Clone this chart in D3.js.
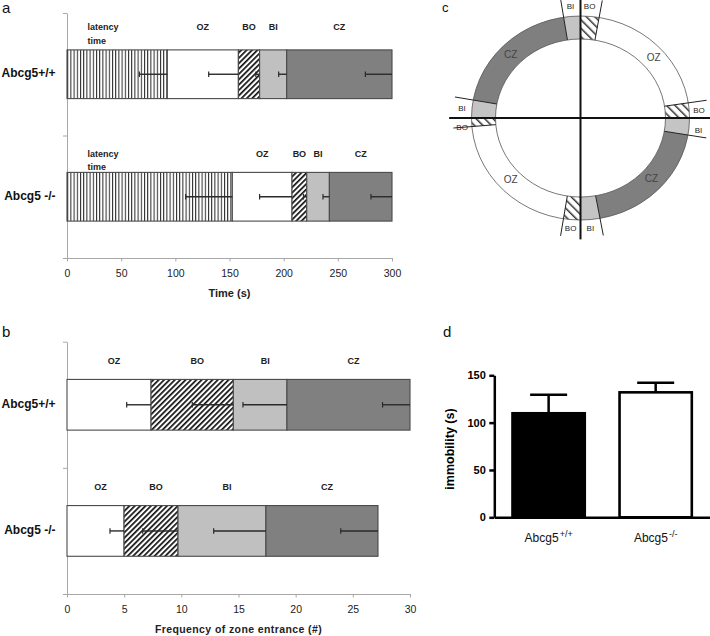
<!DOCTYPE html>
<html><head><meta charset="utf-8">
<script src="https://cdn.jsdelivr.net/npm/d3@7"></script>
<style>body{margin:0;background:#fff}svg{display:block}text{font-family:"Liberation Sans",Arial,sans-serif}</style>
</head><body><svg id="c" width="710" height="636"></svg>
<script>
// ---------------- data ----------------
const groups = ["Abcg5+/+", "Abcg5 -/-"];

// panel a: time spent per zone (s), stacked
const zonesA = ["latency time", "OZ", "BO", "BI", "CZ"];
const timeWT = [92.6, 65.6, 19.6, 25.0, 97.2];
const timeKO = [152.6, 55.1, 13.6, 20.9, 57.8];
const timeErrWT = [25.8, 27.4, 3.5, 7.4, 24.6];
const timeErrKO = [43.1, 29.9, 3.0, 5.9, 19.4];
const timeTicks = [0, 50, 100, 150, 200, 250, 300];

// panel b: frequency of zone entrance (#), stacked
const zonesB = ["OZ", "BO", "BI", "CZ"];
const freqWT = [7.35, 7.2, 4.69, 10.76];
const freqKO = [4.99, 4.72, 7.69, 9.8];
const freqErrWT = [2.13, 3.59, 3.85, 2.4];
const freqErrKO = [1.23, 3.09, 4.57, 3.26];
const freqTicks = [0, 5, 10, 15, 20, 25, 30];

// panel c: ring maze zones (compass degrees)
const ringZones = ["BO", "OZ", "BO", "BI", "CZ", "BI", "BO", "OZ", "BO", "BI", "CZ", "BI"];
const ringStart = [0, 10.5, 82, 90, 99, 169, 180, 189.6, 265.5, 270, 279.5, 350.5];
const ringEnd   = [10.5, 82, 90, 99, 169, 180, 189.6, 265.5, 270, 279.5, 350.5, 360];
const ringLabels = ["BI", "BO", "BO", "BI", "BO", "BI", "BI", "BO", "CZ", "OZ", "OZ", "CZ"];
const ringLabelAngle = [354.8, 4.7, 86.6, 96, 185.1, 174.9, 274.2, 265.4, 312, 51, 228, 131];

// panel d: immobility (s)
const immobility = [109.9, 132.0];
const immobilityErr = [19.6, 10.2];
const immTicks = [0, 50, 100, 150];
const immLabelBase = ["Abcg5", "Abcg5"];
const immLabelSup = ["+/+", "-/-"];

// ---------------- drawing ----------------
const svg = d3.select("#c");
svg.append("rect").attr("width", 710).attr("height", 636).attr("fill", "#fff");
const defs = svg.append("defs");

function pattern(id, w, h, rot, lw, col) {
  const p = defs.append("pattern").attr("id", id).attr("patternUnits", "userSpaceOnUse")
    .attr("width", w).attr("height", h);
  if (rot) p.attr("patternTransform", `rotate(${rot})`);
  p.append("rect").attr("width", w).attr("height", h).attr("fill", "#fff");
  p.append("line").attr("x1", lw / 2).attr("x2", lw / 2).attr("y1", 0).attr("y2", h)
    .attr("stroke", col).attr("stroke-width", lw);
  return p;
}
pattern("vstripe", 3.2, 10, 0, 1, "#222");
pattern("diag", 3.8, 3.8, 45, 1.7, "#111");
pattern("diagC", 6, 6, -45, 1.5, "#333");

const fillOf = { "latency time": "url(#vstripe)", OZ: "#ffffff", BO: "url(#diag)", BI: "#c0c0c0", CZ: "#808080" };
const FONT = '"Liberation Sans",Arial,sans-serif';

function panelLabel(t, x, y, size) {
  svg.append("text").attr("x", x).attr("y", y).attr("font-size", size).attr("fill", "#111").text(t);
}

function stackedPanel(opt) {
  const { x, yRange, zones, vals, errs, ticks, title, titleY, labelDy, labelShift, barH } = opt;
  const g = svg.append("g");
  const yB = d3.scaleBand().domain(groups).range(yRange);
  const yIdx = d3.scaleLinear().domain([0, groups.length]).range([yRange[1], yRange[0]]);
  // left axis
  g.append("g").attr("transform", `translate(${x.range()[0]},0)`)
    .call(d3.axisLeft(yIdx).tickValues(d3.range(groups.length + 1)).tickFormat("").tickSize(4).tickSizeOuter(0))
    .call(s => s.selectAll("path,line").attr("stroke", "#a8a8a8"));
  // bottom axis
  const ax = g.append("g").attr("transform", `translate(0,${yRange[1]})`)
    .call(d3.axisBottom(x).tickValues(ticks).tickSize(3.5).tickPadding(7.9).tickSizeOuter(0));
  ax.selectAll(".domain,line").attr("stroke", "#a8a8a8");
  ax.selectAll("text").attr("font-size", 10.5).attr("fill", "#222").attr("font-family", FONT);
  g.append("text").attr("x", (x.range()[0] + x.range()[1]) / 2).attr("y", titleY)
    .attr("text-anchor", "middle").attr("dominant-baseline", "middle")
    .attr("font-size", opt.titleSize).attr("font-weight", "bold").attr("letter-spacing", opt.titleLS || 0)
    .attr("fill", "#222").text(title);

  groups.forEach((grp, gi) => {
    const cyB = yB(grp) + yB.bandwidth() / 2;
    const v = vals[gi], e = errs[gi];
    const ends = d3.cumsum(v);
    const starts = [0, ...ends.slice(0, -1)];
    // group label
    g.append("text").attr("x", 55.5).attr("y", cyB).attr("text-anchor", "end")
      .attr("dominant-baseline", "middle").attr("font-size", 12).attr("font-weight", "bold")
      .attr("fill", "#111").text(grp);
    const seg = g.selectAll(null).data(zones.map((z, i) => ({ z, s: starts[i], e: ends[i], err: e[i] })))
      .enter();
    seg.append("rect")
      .attr("x", d => x(d.s)).attr("width", d => x(d.e) - x(d.s))
      .attr("y", cyB - barH / 2).attr("height", barH)
      .attr("fill", d => fillOf[d.z]).attr("stroke", "#4a4a4a").attr("stroke-width", 1.1);
    // error bars (drawn leftwards from segment end)
    seg.append("line").attr("x1", d => x(d.e - d.err)).attr("x2", d => x(d.e))
      .attr("y1", cyB).attr("y2", cyB).attr("stroke", "#2a2a2a").attr("stroke-width", 1.4);
    seg.append("line").attr("x1", d => x(d.e - d.err)).attr("x2", d => x(d.e - d.err))
      .attr("y1", cyB - 2.8).attr("y2", cyB + 2.8).attr("stroke", "#2a2a2a").attr("stroke-width", 1.2);
    // zone labels
    const ly = cyB + labelDy[gi];
    zones.forEach((z, i) => {
      if (z === "latency time") {
        g.append("text").attr("x", x(0) + 20.5).attr("y", ly).attr("font-size", 9)
          .attr("font-weight", "bold").attr("fill", "#222").attr("dominant-baseline", "middle").text("latency");
        g.append("text").attr("x", x(0) + 20.5).attr("y", ly + opt.lineGap[gi]).attr("font-size", 9)
          .attr("font-weight", "bold").attr("fill", "#222").attr("dominant-baseline", "middle").text("time");
      } else {
        g.append("text").attr("x", (x(starts[i]) + x(ends[i])) / 2 + labelShift)
          .attr("y", ly).attr("text-anchor", "middle").attr("dominant-baseline", "middle")
          .attr("font-size", 9).attr("font-weight", "bold").attr("fill", "#222").text(z);
      }
    });
  });
}

// ---- panel a ----
panelLabel("a", 2, 12.5, 15);
stackedPanel({
  x: d3.scaleLinear().domain([0, 300]).range([67, 392]),
  yRange: [13, 258], zones: zonesA, vals: [timeWT, timeKO], errs: [timeErrWT, timeErrKO],
  ticks: timeTicks, title: "Time (s)", titleY: 294, titleSize: 11,
  labelDy: [-47, -42], lineGap: [14, 13], labelShift: 0, barH: 48.7
});

// ---- panel b ----
panelLabel("b", 2, 336.5, 15);
stackedPanel({
  x: d3.scaleLinear().domain([0, 30]).range([67, 410]),
  yRange: [341.7, 594], zones: zonesB, vals: [freqWT, freqKO], errs: [freqErrWT, freqErrKO],
  ticks: freqTicks, title: "Frequency of zone entrance (#)", titleY: 630, titleSize: 10.5, titleLS: 0.4,
  labelDy: [-42.8, -42.9], lineGap: [14, 14], labelShift: 5, barH: 50.7
});

// ---- panel c ----
panelLabel("c", 442, 12, 13);
{
  const cx = 580.5, cy = 118, ao = 109, bo = 102, ai = 85, bi = 79;
  const ang = d3.scaleLinear().domain([0, 360]).range([0, 2 * Math.PI]);
  const ept = (deg, a, b, k = 1) => {
    const t = ang(deg), s = Math.sin(t), c = Math.cos(t);
    const r = k / Math.sqrt((s / a) ** 2 + (c / b) ** 2);
    return [cx + r * s, cy - r * c];
  };
  const sector = (d0, d1) => {
    const n = Math.max(2, Math.ceil((d1 - d0) / 2));
    const pts = [];
    for (let i = 0; i <= n; i++) pts.push(ept(d0 + (d1 - d0) * i / n, ao, bo));
    for (let i = n; i >= 0; i--) pts.push(ept(d0 + (d1 - d0) * i / n, ai, bi));
    return d3.line()(pts) + "Z";
  };
  const cfill = { OZ: "#ffffff", BO: "url(#diagC)", BI: "#c4c4c4", CZ: "#7f7f7f" };
  const gc = svg.append("g");
  gc.selectAll(null).data(ringZones.map((z, i) => ({ z, s: ringStart[i], e: ringEnd[i] })))
    .enter().append("path").attr("d", d => sector(d.s, d.e)).attr("fill", d => cfill[d.z]);
  gc.append("ellipse").attr("cx", cx).attr("cy", cy).attr("rx", ao).attr("ry", bo)
    .attr("fill", "none").attr("stroke", "#555").attr("stroke-width", 0.8);
  gc.append("ellipse").attr("cx", cx).attr("cy", cy).attr("rx", ai).attr("ry", bi)
    .attr("fill", "none").attr("stroke", "#555").attr("stroke-width", 0.8);
  // boundary lines
  ringStart.filter(a => a % 90 !== 0).forEach(a => {
    const p0 = ept(a, ai, bi), p1 = ept(a, ao, bo, 1.17);
    gc.append("line").attr("x1", p0[0]).attr("y1", p0[1]).attr("x2", p1[0]).attr("y2", p1[1])
      .attr("stroke", "#222").attr("stroke-width", 1);
  });
  // axes cross
  gc.append("line").attr("x1", cx - ao * 1.205).attr("x2", 710).attr("y1", cy).attr("y2", cy)
    .attr("stroke", "#111").attr("stroke-width", 2);
  gc.append("line").attr("x1", cx).attr("x2", cx).attr("y1", 0).attr("y2", cy + bo * 1.19)
    .attr("stroke", "#111").attr("stroke-width", 2);
  // labels
  ringLabels.forEach((t, i) => {
    const big = t === "CZ" || t === "OZ";
    const p = big ? ept(ringLabelAngle[i], (ao + ai) / 2, (bo + bi) / 2) : ept(ringLabelAngle[i], ao, bo, 1.09);
    gc.append("text").attr("x", p[0]).attr("y", p[1]).attr("text-anchor", "middle")
      .attr("dominant-baseline", "middle").attr("font-size", big ? 10 : 8)
      .attr("fill", big ? "#444" : "#222").text(t);
  });
}

// ---- panel d ----
panelLabel("d", 443, 336.5, 15);
{
  const y = d3.scaleLinear().domain([0, 150]).range([517.3, 375.3]);
  const x = d3.scaleBand().domain(groups).range([494.3, 710]).paddingInner(0.325).paddingOuter(0.17);
  const gd = svg.append("g");
  const ya = gd.append("g").attr("transform", "translate(494.3,0)")
    .call(d3.axisLeft(y).tickValues(immTicks).tickSize(5).tickPadding(3.5).tickSizeOuter(0));
  ya.selectAll("path,line").attr("stroke", "#000").attr("stroke-width", 2.5);
  ya.selectAll("text").attr("font-size", 11).attr("font-weight", "bold").attr("fill", "#000").attr("font-family", FONT);
  const xa = gd.append("g").attr("transform", `translate(0,${y(0)})`)
    .call(d3.axisBottom(x).tickSize(0).tickFormat("").tickSizeOuter(0));
  xa.select(".domain").attr("stroke", "#000").attr("stroke-width", 2.5);
  groups.forEach((grp, i) => {
    const x0 = x(grp), w = x.bandwidth(), xc = x0 + w / 2;
    gd.append("line").attr("x1", xc).attr("x2", xc).attr("y1", y(immobility[i]))
      .attr("y2", y(immobility[i] + immobilityErr[i])).attr("stroke", "#000").attr("stroke-width", 2.5);
    gd.append("line").attr("x1", xc - 18.5).attr("x2", xc + 18.5)
      .attr("y1", y(immobility[i] + immobilityErr[i])).attr("y2", y(immobility[i] + immobilityErr[i]))
      .attr("stroke", "#000").attr("stroke-width", 2.5);
    gd.append("rect").attr("x", x0).attr("width", w).attr("y", y(immobility[i]))
      .attr("height", y(0) - y(immobility[i]))
      .attr("fill", i === 0 ? "#000" : "#fff").attr("stroke", "#000").attr("stroke-width", 2.6);
    const t = gd.append("text").attr("x", xc).attr("y", 542).attr("text-anchor", "middle")
      .attr("font-size", 12).attr("fill", "#111");
    t.append("tspan").text(immLabelBase[i]);
    t.append("tspan").attr("dy", -5.5).attr("font-size", 9).attr("dx", 1).text(immLabelSup[i]);
  });
  gd.append("text").attr("transform", "translate(454,449) rotate(-90)").attr("text-anchor", "middle")
    .attr("font-size", 12.5).attr("font-weight", "bold").attr("fill", "#000").text("immobility (s)");
}
</script></body></html>
